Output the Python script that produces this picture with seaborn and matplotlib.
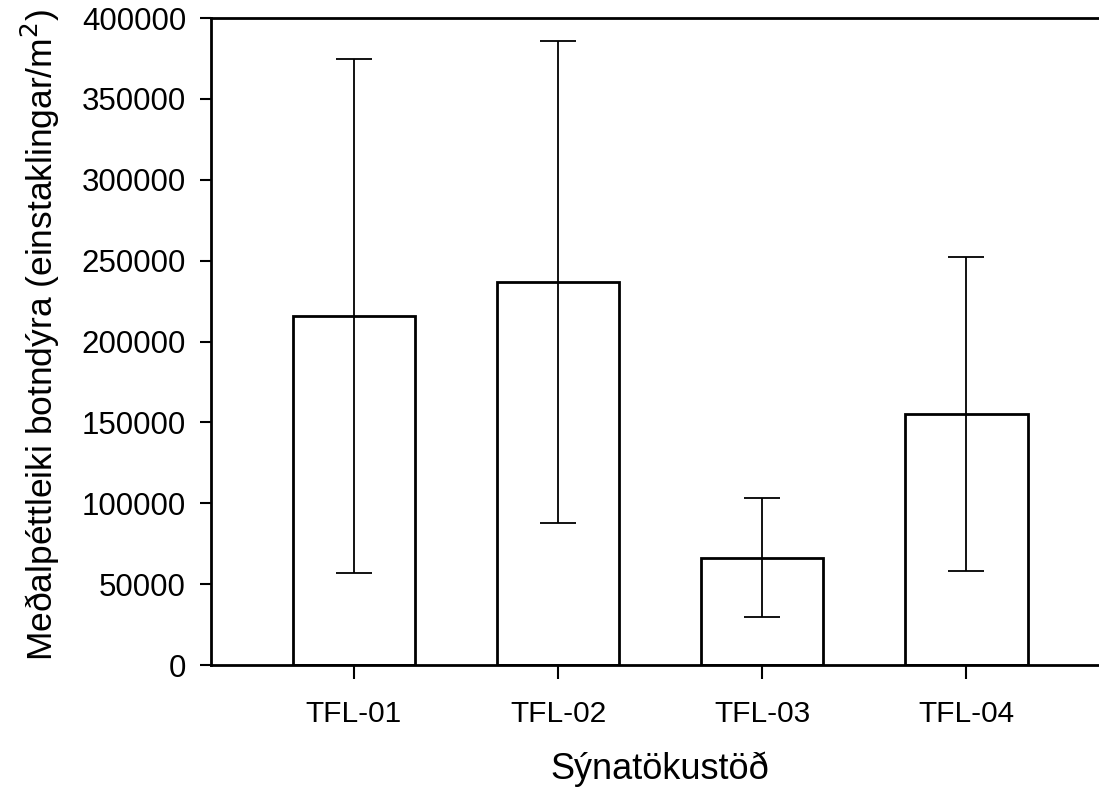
import matplotlib
matplotlib.use("Agg")
import pandas as pd
import matplotlib.pyplot as plt
import seaborn as sns

# gögn lesin af myndinni
stodvar = ["TFL-01", "TFL-02", "TFL-03", "TFL-04"]
medaltal = [216000, 237000, 66500, 155000]
skekkja = [159000, 149000, 36500, 97000]

df = pd.DataFrame({"stod": stodvar, "medaltal": medaltal, "skekkja": skekkja})

sns.set_style("ticks")
plt.rcParams["font.family"] = ["Liberation Sans", "DejaVu Sans"]
plt.rcParams["text.color"] = "black"
plt.rcParams["axes.labelcolor"] = "black"

fig = plt.figure(figsize=(10.99, 7.88), dpi=100)
ax = fig.add_axes([0.192, 0.156, 0.808, 0.821])

sns.barplot(data=df, x="stod", y="medaltal", color="white", edgecolor="black",
            linewidth=2, width=0.6, errorbar=None, ax=ax)
ax.errorbar(range(len(stodvar)), df["medaltal"], yerr=df["skekkja"], fmt="none",
            ecolor="black", elinewidth=1.3, capsize=13, capthick=1.3)

ax.set_ylim(0, 400000)
ax.set_xlim(-0.7, 3.65)
ax.set_yticks(range(0, 400001, 50000))
ax.tick_params(axis="both", width=1.5, direction="out",
               color="black", labelcolor="black")
ax.tick_params(axis="y", length=8, pad=10, labelsize=22.5)
ax.tick_params(axis="x", length=10, pad=15, labelsize=21.5)
for side in ["left", "bottom", "top"]:
    ax.spines[side].set_linewidth(2)
    ax.spines[side].set_color("black")
ax.spines["right"].set_visible(False)

ax.set_xlabel("Sýnatökustöð", fontsize=26)
ax.set_ylabel("Meðalpéttleiki botndýra (einstaklingar/m$^2$)", fontsize=25.5)
ax.xaxis.set_label_coords(0.5 + (660 - 655) / 888, -0.134)
ax.yaxis.set_label_coords(-0.168, 0.51)

fig.savefig("out.png", dpi=100)
